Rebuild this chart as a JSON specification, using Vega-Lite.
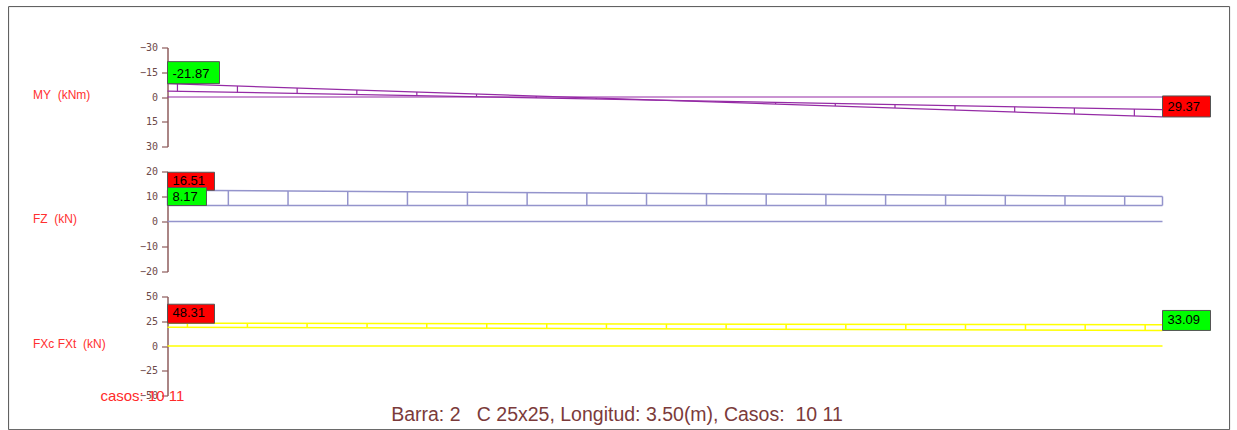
{
  "$schema": "https://vega.github.io/schema/vega-lite/v6.json",
  "padding": {"left": 7.5, "top": 5.5, "right": 0, "bottom": 0},
  "background": "white",
  "spacing": 25,
  "bounds": "flush",
  "config": {
    "view": {"stroke": null},
    "axis": {"grid": false, "labelOverlap": false},
    "axisY": {
      "domainColor": "#8e5c5c", "domainWidth": 1.5, "tickColor": "#8e5c5c", "tickWidth": 1.2, "tickSize": 6,
      "labelFont": "DejaVu Sans Mono", "labelFontSize": 10, "labelColor": "#6e4a4a", "labelPadding": 4, "labelOverlap": false,
      "titleAngle": 0, "titleAlign": "left", "titleBaseline": "middle", "titleX": -135, "titleY": 47,
      "titleFont": "Liberation Sans", "titleFontSize": 12, "titleFontWeight": "normal", "titleColor": "#ff3030"
    }
  },
  "resolve": {"scale": {"x": "independent", "y": "independent", "color": "independent", "shape": "independent"}},
  "datasets": {
    "my_lines": [
      {"x": 0, "v": -8.1, "s": "A"}, {"x": 3.5, "v": 12.1, "s": "A"},
      {"x": 0, "v": -3.6, "s": "B"}, {"x": 3.5, "v": 7.6, "s": "B"},
      {"x": 0, "v": 0, "s": "base"}, {"x": 3.5, "v": 0, "s": "base"}
    ],
    "my_hatch": [
      {"x": 0.035, "v": -7.90, "v2": -3.49}, {"x": 0.246, "v": -6.68, "v2": -2.81},
      {"x": 0.456, "v": -5.47, "v2": -2.14}, {"x": 0.666, "v": -4.26, "v2": -1.47},
      {"x": 0.877, "v": -3.04, "v2": -0.79}, {"x": 1.087, "v": -1.83, "v2": -0.12},
      {"x": 1.297, "v": -0.61, "v2": 0.55}, {"x": 1.508, "v": 0.60, "v2": 1.23},
      {"x": 1.718, "v": 1.82, "v2": 1.90}, {"x": 1.928, "v": 3.03, "v2": 2.57},
      {"x": 2.139, "v": 4.24, "v2": 3.24}, {"x": 2.349, "v": 5.46, "v2": 3.92},
      {"x": 2.559, "v": 6.67, "v2": 4.59}, {"x": 2.770, "v": 7.89, "v2": 5.26},
      {"x": 2.980, "v": 9.10, "v2": 5.94}, {"x": 3.190, "v": 10.31, "v2": 6.61},
      {"x": 3.401, "v": 11.53, "v2": 7.28}
    ],
    "my_lab": [
      {"x": 0, "v": -8.1, "label": "-21.87", "kind": "min"},
      {"x": 3.5, "v": 12.1, "label": "29.37", "kind": "max"}
    ],
    "fz_lines": [
      {"x": 0, "v": 12.5, "s": "U"}, {"x": 3.5, "v": 10.0, "s": "U"},
      {"x": 0, "v": 6.4, "s": "L"}, {"x": 3.5, "v": 6.4, "s": "L"},
      {"x": 0, "v": 0, "s": "base"}, {"x": 3.5, "v": 0, "s": "base"}
    ],
    "fz_hatch": [
      {"x": 0, "v": 12.5, "v2": 6.4}, {"x": 0.214, "v": 12.35, "v2": 6.4},
      {"x": 0.424, "v": 12.20, "v2": 6.4}, {"x": 0.634, "v": 12.05, "v2": 6.4},
      {"x": 0.844, "v": 11.90, "v2": 6.4}, {"x": 1.055, "v": 11.75, "v2": 6.4},
      {"x": 1.265, "v": 11.60, "v2": 6.4}, {"x": 1.475, "v": 11.45, "v2": 6.4},
      {"x": 1.685, "v": 11.30, "v2": 6.4}, {"x": 1.896, "v": 11.15, "v2": 6.4},
      {"x": 2.106, "v": 11.00, "v2": 6.4}, {"x": 2.316, "v": 10.85, "v2": 6.4},
      {"x": 2.526, "v": 10.70, "v2": 6.4}, {"x": 2.737, "v": 10.54, "v2": 6.4},
      {"x": 2.947, "v": 10.39, "v2": 6.4}, {"x": 3.157, "v": 10.24, "v2": 6.4},
      {"x": 3.367, "v": 10.10, "v2": 6.4}, {"x": 3.5, "v": 10.0, "v2": 6.4}
    ],
    "fz_lab": [
      {"x": 0, "v": 12.5, "label": "16.51", "kind": "max"},
      {"x": 0, "v": 6.4, "label": "8.17", "kind": "min"}
    ],
    "fx_lines": [
      {"x": 0, "v": 23.0, "s": "U"}, {"x": 3.5, "v": 21.4, "s": "U"},
      {"x": 0, "v": 19.0, "s": "L"}, {"x": 3.5, "v": 15.7, "s": "L"},
      {"x": 0, "v": 0, "s": "base"}, {"x": 3.5, "v": 0, "s": "base"}
    ],
    "fx_hatch": [
      {"x": 0.070, "v": 22.97, "v2": 18.93}, {"x": 0.281, "v": 22.87, "v2": 18.74},
      {"x": 0.491, "v": 22.78, "v2": 18.54}, {"x": 0.702, "v": 22.68, "v2": 18.34},
      {"x": 0.912, "v": 22.58, "v2": 18.14}, {"x": 1.123, "v": 22.49, "v2": 17.94},
      {"x": 1.334, "v": 22.39, "v2": 17.74}, {"x": 1.544, "v": 22.29, "v2": 17.54},
      {"x": 1.755, "v": 22.20, "v2": 17.35}, {"x": 1.965, "v": 22.10, "v2": 17.15},
      {"x": 2.176, "v": 22.01, "v2": 16.95}, {"x": 2.386, "v": 21.91, "v2": 16.75},
      {"x": 2.597, "v": 21.81, "v2": 16.55}, {"x": 2.807, "v": 21.72, "v2": 16.35},
      {"x": 3.018, "v": 21.62, "v2": 16.15}, {"x": 3.228, "v": 21.52, "v2": 15.96},
      {"x": 3.439, "v": 21.43, "v2": 15.76}
    ],
    "fx_lab": [
      {"x": 0, "v": 23.0, "label": "48.31", "kind": "max"},
      {"x": 3.5, "v": 15.7, "label": "33.09", "kind": "min"}
    ]
  },
  "vconcat": [
    {
      "width": 995, "height": 99,
      "layer": [
        {
          "data": {"values": [{"f": 1}]},
          "mark": {"type": "rect", "fill": "transparent", "stroke": "#555555", "strokeWidth": 1},
          "encoding": {
            "x": {"datum": -0.559, "type": "quantitative", "scale": {"domain": [0, 3.5], "nice": false, "zero": false}, "axis": null},
            "x2": {"datum": 3.736},
            "y": {"datum": -54.8, "type": "quantitative", "scale": {"domain": [-30, 30], "reverse": true, "nice": false, "zero": false}, "axis": {"values": [-30, -15, 0, 15, 30], "title": "MY\u00a0 (kNm)"}},
            "y2": {"datum": 201.6}
          }
        },
        {
          "data": {"name": "my_lines"},
          "mark": {"type": "line", "color": "#952ba5", "strokeWidth": 1.2},
          "encoding": {
            "x": {"field": "x", "type": "quantitative", "axis": null},
            "y": {"field": "v", "type": "quantitative", "axis": {"values": [-30, -15, 0, 15, 30], "title": "MY\u00a0 (kNm)"}},
            "detail": {"field": "s"}
          }
        },
        {
          "data": {"name": "my_hatch"},
          "mark": {"type": "rule", "color": "#952ba5", "strokeWidth": 1.2},
          "encoding": {
            "x": {"field": "x", "type": "quantitative", "axis": null},
            "y": {"field": "v", "type": "quantitative", "axis": {"values": [-30, -15, 0, 15, 30], "title": "MY\u00a0 (kNm)"}},
            "y2": {"field": "v2"}
          }
        },
        {
          "data": {"name": "my_lab"},
          "mark": {"type": "point", "filled": true, "opacity": 1, "size": 400, "stroke": "#555555", "strokeWidth": 1},
          "encoding": {
            "x": {"field": "x", "type": "quantitative", "axis": null},
            "y": {"field": "v", "type": "quantitative", "axis": {"values": [-30, -15, 0, 15, 30], "title": "MY\u00a0 (kNm)"}},
            "color": {"field": "kind", "type": "nominal", "scale": {"domain": ["max", "min"], "range": ["#ff0000", "#00ff00"]}, "legend": null},
            "shape": {"field": "label", "type": "nominal", "scale": {"domain": ["-21.87", "29.37"], "range": ["M0,0H5.2V-2.2H0Z", "M0,0H4.8V-2.1H0Z"]}, "legend": null}
          }
        },
        {
          "data": {"name": "my_lab"},
          "mark": {"type": "text", "align": "left", "baseline": "middle", "dx": 5, "dy": -10, "font": "Liberation Sans", "fontSize": 13, "color": "#000000"},
          "encoding": {
            "x": {"field": "x", "type": "quantitative", "axis": null},
            "y": {"field": "v", "type": "quantitative", "axis": {"values": [-30, -15, 0, 15, 30], "title": "MY\u00a0 (kNm)"}},
            "text": {"field": "label"}
          }
        }
      ]
    },
    {
      "width": 995, "height": 100,
      "encoding": {
        "x": {"field": "x", "type": "quantitative", "scale": {"domain": [0, 3.5], "nice": false, "zero": false}, "axis": null},
        "y": {"field": "v", "type": "quantitative", "scale": {"domain": [-20, 20], "nice": false, "zero": false}, "axis": {"values": [-20, -10, 0, 10, 20], "title": "FZ\u00a0 (kN)"}}
      },
      "layer": [
        {
          "data": {"name": "fz_lines"},
          "mark": {"type": "line", "color": "#9494cc", "strokeWidth": 1.5},
          "encoding": {"detail": {"field": "s"}}
        },
        {
          "data": {"name": "fz_hatch"},
          "mark": {"type": "rule", "color": "#9494cc", "strokeWidth": 1.5},
          "encoding": {"y2": {"field": "v2"}}
        },
        {
          "data": {"name": "fz_lab"},
          "mark": {"type": "point", "filled": true, "opacity": 1, "size": 400, "stroke": "#555555", "strokeWidth": 1},
          "encoding": {
            "color": {"field": "kind", "type": "nominal", "scale": {"domain": ["max", "min"], "range": ["#ff0000", "#00ff00"]}, "legend": null},
            "shape": {"field": "label", "type": "nominal", "scale": {"domain": ["16.51", "8.17"], "range": ["M0,0H4.7V-1.8H0Z", "M0,0H3.9V-1.8H0Z"]}, "legend": null}
          }
        },
        {
          "data": {"name": "fz_lab"},
          "mark": {"type": "text", "align": "left", "baseline": "middle", "dx": 5, "dy": -9, "font": "Liberation Sans", "fontSize": 13, "color": "#000000"},
          "encoding": {"text": {"field": "label"}}
        }
      ]
    },
    {
      "width": 995, "height": 99,
      "title": {"text": "Barra: 2\u00a0\u00a0 C 25x25, Longitud: 3.50(m), Casos:\u00a0 10 11", "orient": "bottom", "anchor": "middle", "frame": "group", "offset": 2, "dx": -48, "font": "Liberation Sans", "fontSize": 19.5, "fontWeight": "normal", "color": "#7b3b3b"},
      "layer": [
        {
          "data": {"name": "fx_lines"},
          "mark": {"type": "line", "color": "#ffff00", "strokeWidth": 1.5},
          "encoding": {
            "x": {"field": "x", "type": "quantitative", "scale": {"domain": [0, 3.5], "nice": false, "zero": false}, "axis": null},
            "y": {"field": "v", "type": "quantitative", "scale": {"domain": [-50, 50], "nice": false, "zero": false}, "axis": {"values": [-50, -25, 0, 25, 50], "title": "FXc FXt\u00a0 (kN)"}},
            "detail": {"field": "s"}
          }
        },
        {
          "data": {"name": "fx_hatch"},
          "mark": {"type": "rule", "color": "#ffff00", "strokeWidth": 1.5},
          "encoding": {
            "x": {"field": "x", "type": "quantitative", "axis": null},
            "y": {"field": "v", "type": "quantitative", "axis": {"values": [-50, -25, 0, 25, 50], "title": "FXc FXt\u00a0 (kN)"}},
            "y2": {"field": "v2"}
          }
        },
        {
          "data": {"name": "fx_lab"},
          "mark": {"type": "point", "filled": true, "opacity": 1, "size": 400, "stroke": "#555555", "strokeWidth": 1},
          "encoding": {
            "x": {"field": "x", "type": "quantitative", "axis": null},
            "y": {"field": "v", "type": "quantitative", "axis": {"values": [-50, -25, 0, 25, 50], "title": "FXc FXt\u00a0 (kN)"}},
            "color": {"field": "kind", "type": "nominal", "scale": {"domain": ["max", "min"], "range": ["#ff0000", "#00ff00"]}, "legend": null},
            "shape": {"field": "label", "type": "nominal", "scale": {"domain": ["48.31", "33.09"], "range": ["M0,0H4.7V-1.9H0Z", "M0,0H4.8V-2H0Z"]}, "legend": null}
          }
        },
        {
          "data": {"name": "fx_lab"},
          "mark": {"type": "text", "align": "left", "baseline": "middle", "dx": 5, "dy": -10, "font": "Liberation Sans", "fontSize": 13, "color": "#000000"},
          "encoding": {
            "x": {"field": "x", "type": "quantitative", "axis": null},
            "y": {"field": "v", "type": "quantitative", "axis": {"values": [-50, -25, 0, 25, 50], "title": "FXc FXt\u00a0 (kN)"}},
            "text": {"field": "label"}
          }
        },
        {
          "data": {"values": [{"t": "casos: 10 11"}]},
          "mark": {"type": "text", "align": "left", "baseline": "middle", "font": "Liberation Sans", "fontSize": 15, "color": "#ff2a2a"},
          "encoding": {
            "x": {"datum": -0.236, "type": "quantitative", "axis": null},
            "y": {"datum": -50, "type": "quantitative", "axis": {"values": [-50, -25, 0, 25, 50], "title": "FXc FXt\u00a0 (kN)"}},
            "text": {"field": "t"}
          }
        }
      ]
    }
  ]
}
